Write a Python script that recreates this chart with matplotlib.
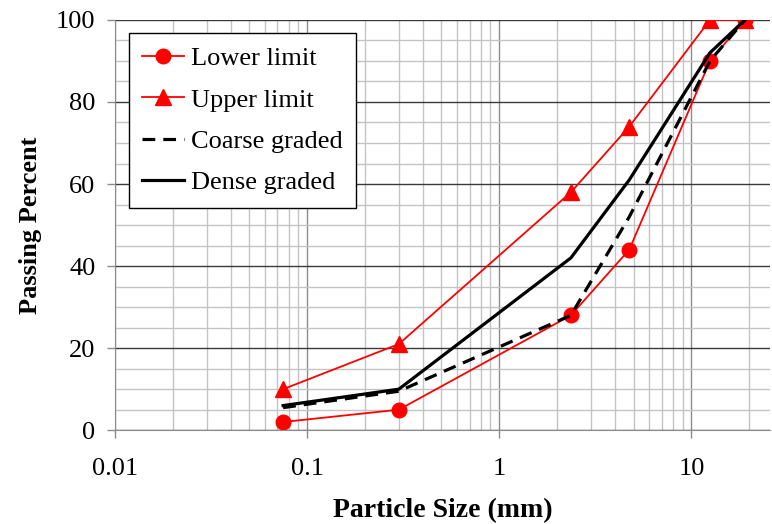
import numpy as np
import matplotlib
matplotlib.use("Agg")
import matplotlib.pyplot as plt
from matplotlib.ticker import LogLocator, FixedLocator, NullFormatter

plt.rcParams['font.family'] = ['Liberation Serif', 'DejaVu Serif']

# sieve sizes (mm) and passing percentages
sizes = [0.075, 0.3, 2.36, 4.75, 12.5, 19]
lower_limit = [2, 5, 28, 44, 90, 100]
upper_limit = [10, 21, 58, 74, 100, 100]
coarse_graded = [5.5, 9.5, 28, 52, 90, 100]
dense_graded = [6, 10, 42, 61, 92, 100]

x_ticks = [0.01, 0.1, 1, 10]
x_tick_labels = ['0.01', '0.1', '1', '10']

fig = plt.figure(figsize=(7.72, 5.24), dpi=100)
ax = fig.add_axes([0.149, 0.179, 0.849, 0.783])

ax.set_xscale('log')
ax.set_xlim(0.01, 25.8)
ax.set_ylim(0, 100)

# grid: minor x lines light grey, decades darker, y majors dark
ax.xaxis.set_minor_locator(LogLocator(base=10, subs=np.arange(2, 10)))
ax.xaxis.set_minor_formatter(NullFormatter())
ax.yaxis.set_minor_locator(FixedLocator(np.arange(0, 101, 5)))
ax.grid(which='minor', axis='both', color='#c4c4c4', linewidth=1.0)
ax.grid(which='major', axis='x', color='#8c8c8c', linewidth=1.0)
ax.grid(which='major', axis='y', color='#3a3a3a', linewidth=1.0)
ax.set_axisbelow(True)

ax.plot(sizes, lower_limit, color='red', lw=1.3, marker='o', ms=10.5, label='Lower limit')
ax.plot(sizes, upper_limit, color='red', lw=1.3, marker='^', ms=12, label='Upper limit')
ax.plot(sizes, coarse_graded, color='black', lw=2.3, ls=(0, (4, 2.5)), label='Coarse graded')
ax.plot(sizes, dense_graded, color='black', lw=2.3, label='Dense graded')

ax.set_xticks(x_ticks)
ax.set_xticklabels(x_tick_labels)
ax.set_yticks(np.arange(0, 101, 20))
ax.tick_params(which='major', length=6, width=1, color='#8c8c8c', labelsize=19, pad=8)
ax.tick_params(which='minor', length=0)
ax.tick_params(axis='x', pad=14)

for s in ['top', 'right']:
    ax.spines[s].set_visible(False)
ax.spines['left'].set_color('#8c8c8c')
ax.spines['bottom'].set_color('#8c8c8c')

ax.set_xlabel('Particle Size (mm)', fontsize=20, fontweight='bold', labelpad=13)
ax.set_ylabel('Passing Percent', fontsize=19, fontweight='bold', labelpad=10)

leg = ax.legend(loc='upper left', bbox_to_anchor=(0.021, 0.967), fontsize=19,
                frameon=True, fancybox=False, framealpha=1, edgecolor='black',
                handlelength=1.6, labelspacing=0.68, borderpad=0.5, handletextpad=0.25,
                borderaxespad=0)
leg.get_frame().set_linewidth(1.0)

fig.savefig('out.png', dpi=100)
